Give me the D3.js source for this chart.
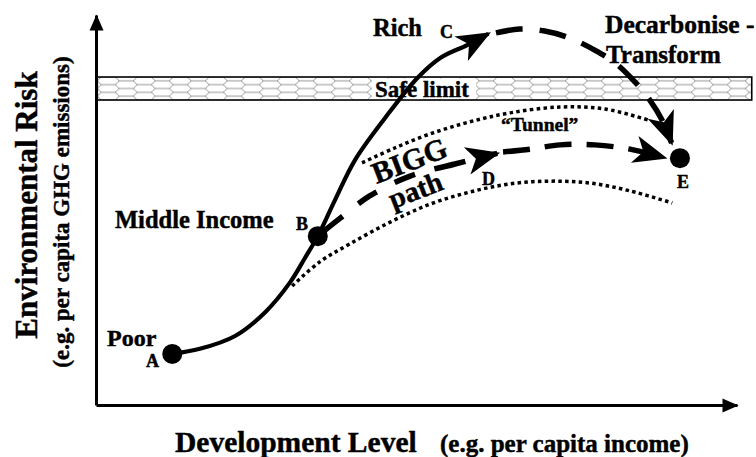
<!DOCTYPE html>
<html><head><meta charset="utf-8">
<script src="https://cdn.jsdelivr.net/npm/d3@7"></script>
<style>
body{margin:0;background:#fff}
svg{display:block}
text{font-family:"Liberation Serif","Times New Roman",serif;font-weight:bold;fill:#000;stroke:#000;stroke-width:0.45px}
</style>
</head><body>
<svg id="c" width="756" height="457"></svg>
<script>
// ---- data (development level 0-100, environmental risk 0-100) ----
const pointNames = ["A","B","E"];
const pointX = [11.9, 34.6, 91.1];
const pointY = [13.1, 43.3, 63.3];

const stageLabels = ["Poor","Middle Income","Rich"];
const transformLabels = ["Decarbonise -","Transform"];
const pathLabels = ["BIGG","path"];
const tunnelLabel = "\u201CTunnel\u201D";
const safeLabel = "Safe limit";
const waypointNames = ["C","D"];

const safeLimitY = [78.2, 84.1];
const safeLimitX = [0.2, 102.3];

const growthX = [11.9,16.2,21.7,26.4,30.3,32.6,34.6,37.3,40.4,45.1,50.1,53.7,57.9,61.2];
const growthY = [13.1,14.4,17.7,23.8,31.5,37.7,43.3,52.6,62.8,73.6,83.8,89.0,92.3,95.2];

const decarbX = [62.4,66.1,70.0,73.9,77.8,81.0,84.1,86.4,88.3,89.8];
const decarbY = [95.4,96.4,95.9,94.1,91.0,87.7,82.8,78.2,73.1,67.2];

const biggX1 = [34.6,38.1,42.7,49.0,56.0,62.6];
const biggY1 = [43.3,47.9,53.6,58.7,61.8,64.5];
const biggX2 = [63.5,67.7,72.4,77.8,83.3,88.7];
const biggY2 = [64.9,65.6,66.7,66.7,65.6,63.4];

const tunnelUpperX = [41.5,46.6,52.1,58.3,64.6,72.4,79.4,86.1];
const tunnelUpperY = [62.1,65.9,69.5,72.6,74.9,76.4,75.9,73.1];
const tunnelLowerX = [30.6,34.9,39.6,45.9,52.1,58.3,64.6,70.8,77.1,83.3,89.9];
const tunnelLowerY = [30.5,36.7,41.3,46.9,51.5,54.6,56.7,57.4,56.9,54.9,51.8];

const axisTitles = ["Environmental Risk","(e.g. per capita GHG emissions)","Development Level","(e.g. per capita income)"];

// ---- drawing ----
const svg = d3.select("#c");
const x = d3.scaleLinear().domain([0,100]).range([96,737]);
const y = d3.scaleLinear().domain([0,100]).range([405,15]);

const defs = svg.append("defs");
const h = 23/3;
const pat = defs.append("pattern").attr("id","hex").attr("patternUnits","userSpaceOnUse")
  .attr("width",36).attr("height",h)
  .attr("patternTransform",`translate(${x(safeLimitX[0])},${y(safeLimitY[1])})`);
pat.append("path")
  .attr("d",`M0,${h/2} L4,0 L18,0 L22,${h/2} L18,${h} L4,${h} Z M22,${h/2} L36,${h/2}`)
  .attr("fill","none").attr("stroke","#7a7a7a").attr("stroke-width",0.8);

defs.append("marker").attr("id","axArrow").attr("markerUnits","userSpaceOnUse")
  .attr("viewBox","-20 -10 24 20").attr("refX",0).attr("refY",0)
  .attr("markerWidth",24).attr("markerHeight",20).attr("orient","auto")
  .append("path").attr("d","M1,0 L-15,-7 L-15,7 Z").attr("fill","#000");

defs.append("marker").attr("id","bigArrow").attr("markerUnits","userSpaceOnUse")
  .attr("viewBox","-36 -18 42 36").attr("refX",0).attr("refY",0)
  .attr("markerWidth",42).attr("markerHeight",36).attr("orient","auto")
  .append("path").attr("d","M3,0 L-31,-14 L-22,0 L-31,14 Z").attr("fill","#000");

// safe limit band
svg.append("rect")
  .attr("x",x(safeLimitX[0])).attr("y",y(safeLimitY[1]))
  .attr("width",x(safeLimitX[1])-x(safeLimitX[0]))
  .attr("height",y(safeLimitY[0])-y(safeLimitY[1]))
  .attr("fill","url(#hex)").attr("stroke","#000").attr("stroke-width",1.6);

const sl = svg.append("g");
sl.append("rect").attr("x",372).attr("y",y(safeLimitY[1])+1.5)
  .attr("width",104).attr("height",y(safeLimitY[0])-y(safeLimitY[1])-3).attr("fill","#fff");
sl.append("text").attr("x",375).attr("y",97).attr("font-size",23).text(safeLabel);

// axes
const gx = svg.append("g").attr("transform",`translate(0,${y(0)})`)
  .call(d3.axisBottom(x).ticks(0).tickSizeOuter(0));
gx.select(".domain").attr("stroke","#000").attr("stroke-width",3).attr("marker-end","url(#axArrow)");
const gy = svg.append("g").attr("transform",`translate(${x(0)},0)`)
  .call(d3.axisLeft(y).ticks(0).tickSizeOuter(0));
gy.select(".domain").attr("stroke","#000").attr("stroke-width",3).attr("marker-end","url(#axArrow)");

const line = (xs,ys) => d3.line().x((d,i)=>x(xs[i])).y((d,i)=>y(ys[i]))
  .curve(d3.curveCatmullRom.alpha(0.5))(xs);

// tunnel
[[tunnelUpperX,tunnelUpperY],[tunnelLowerX,tunnelLowerY]].forEach(([xs,ys])=>{
  svg.append("path").attr("d",line(xs,ys))
    .attr("fill","none").attr("stroke","#000").attr("stroke-width",3.5).attr("stroke-dasharray","3.5,3.3");
});

// conventional growth path A -> B -> C
svg.append("path").attr("d",line(growthX,growthY))
  .attr("fill","none").attr("stroke","#000").attr("stroke-width",4.2).attr("marker-end","url(#bigArrow)");

// decarbonise arc C -> E
svg.append("path").attr("d",line(decarbX,decarbY))
  .attr("fill","none").attr("stroke","#000").attr("stroke-width",5.5)
  .attr("stroke-dasharray","27,17").attr("marker-end","url(#bigArrow)");

// BIGG path B -> D -> E
svg.append("path").attr("d",line(biggX1,biggY1))
  .attr("fill","none").attr("stroke","#000").attr("stroke-width",5.5)
  .attr("stroke-dasharray","32,20,22,20,22,20").attr("marker-end","url(#bigArrow)");
svg.append("path").attr("d",line(biggX2,biggY2))
  .attr("fill","none").attr("stroke","#000").attr("stroke-width",5.5)
  .attr("stroke-dasharray","27,15").attr("marker-end","url(#bigArrow)");

// points
svg.selectAll("circle.pt").data(pointNames).join("circle").attr("class","pt")
  .attr("cx",(d,i)=>x(pointX[i])).attr("cy",(d,i)=>y(pointY[i])).attr("r",10).attr("fill","#000");

// point letters
const letterPos = {A:[146,367],B:[296,230],C:[440,38],D:[482,185],E:[677,188]};
[...pointNames, ...waypointNames].forEach(n=>{
  svg.append("text").attr("x",letterPos[n][0]).attr("y",letterPos[n][1]).attr("font-size",18).text(n);
});

// stage labels
svg.append("text").attr("x",107).attr("y",346).attr("font-size",24).text(stageLabels[0]);
svg.append("text").attr("x",115).attr("y",228).attr("font-size",24.5).text(stageLabels[1]);
svg.append("text").attr("x",373).attr("y",36).attr("font-size",24.5).text(stageLabels[2]);
svg.append("text").attr("x",605).attr("y",33).attr("font-size",25.5).text(transformLabels[0]);
svg.append("text").attr("x",606).attr("y",63).attr("font-size",25).text(transformLabels[1]);
svg.append("text").attr("x",501).attr("y",131).attr("font-size",19.5).text(tunnelLabel);

// BIGG path labels (rotated)
svg.append("text").attr("transform","translate(413,170) rotate(-21)")
  .attr("text-anchor","middle").attr("font-size",30).text(pathLabels[0]);
svg.append("text").attr("transform","translate(419,199) rotate(-21)")
  .attr("text-anchor","middle").attr("font-size",28.5).text(pathLabels[1]);

// axis titles
svg.append("text").attr("transform","translate(37,205) rotate(-90)")
  .attr("text-anchor","middle").attr("font-size",31).text(axisTitles[0]);
svg.append("text").attr("transform","translate(69,212) rotate(-90)")
  .attr("text-anchor","middle").attr("font-size",23).text(axisTitles[1]);
svg.append("text").attr("x",175).attr("y",452).attr("font-size",29.5).text(axisTitles[2]);
svg.append("text").attr("x",440).attr("y",452).attr("font-size",25).text(axisTitles[3]);
</script>
</body></html>
